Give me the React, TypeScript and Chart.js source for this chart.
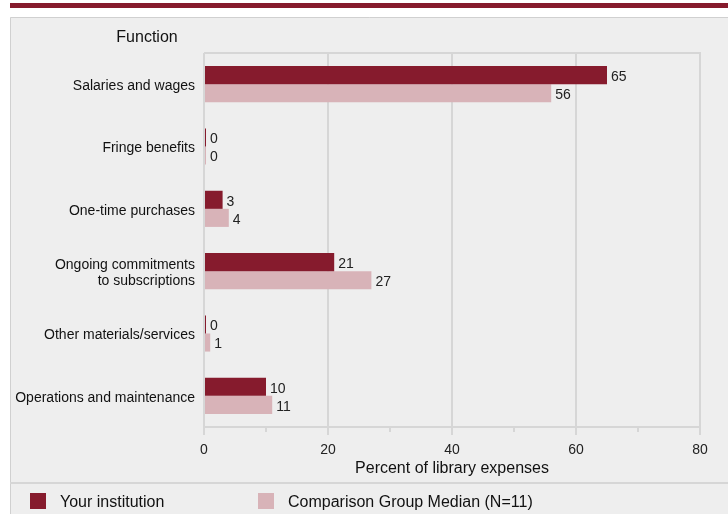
import React, { useEffect, useRef } from "react";
import { Chart, registerables } from "chart.js";

Chart.register(...registerables);

const categories: (string | string[])[] = [
  "Salaries and wages",
  "Fringe benefits",
  "One-time purchases",
  ["Ongoing commitments", "to subscriptions"],
  "Other materials/services",
  "Operations and maintenance",
];
const yourInstitution = [65, 0, 3, 21, 0, 10];
const comparisonMedian = [56, 0, 4, 27, 1, 11];
const xTicks = [0, 20, 40, 60, 80];
const minorTicks = [10, 30, 50, 70];
const seriesNames = ["Your institution", "Comparison Group Median (N=11)"];
const yTitle = "Function";
const xTitle = "Percent of library expenses";

const DARK = "#861B2D";
const LIGHT = "#D8B3B8";
const GRID = "#D6D6D6";
const PANEL = "#EEEEEE";
const FONT = "'Liberation Sans', Arial, sans-serif";

export default function App() {
  const ref = useRef<HTMLCanvasElement | null>(null);

  useEffect(() => {
    document.body.style.margin = "0";
    const canvas = ref.current;
    if (!canvas) return;

    const decor = {
      id: "decor",
      beforeDraw(chart: any) {
        const ctx = chart.ctx;
        ctx.save();
        ctx.fillStyle = "#FFFFFF";
        ctx.fillRect(0, 0, chart.width, chart.height);
        ctx.fillStyle = DARK;
        ctx.fillRect(10, 3, chart.width - 10, 5);
        ctx.fillStyle = PANEL;
        ctx.fillRect(10, 17, chart.width - 10, chart.height - 17);
        ctx.strokeStyle = "#D0D0D0";
        ctx.lineWidth = 1;
        ctx.beginPath();
        ctx.moveTo(10.5, chart.height);
        ctx.lineTo(10.5, 17.5);
        ctx.lineTo(chart.width, 17.5);
        ctx.stroke();
        // separator above legend
        ctx.strokeStyle = "#D6D6D6";
        ctx.lineWidth = 2;
        ctx.beginPath();
        ctx.moveTo(10, 483);
        ctx.lineTo(chart.width, 483);
        ctx.stroke();
        ctx.restore();
      },
      afterDraw(chart: any) {
        const ctx = chart.ctx;
        const area = chart.chartArea;
        const xs = chart.scales.x;
        ctx.save();
        // top border of plot
        ctx.strokeStyle = GRID;
        ctx.lineWidth = 2;
        ctx.beginPath();
        ctx.moveTo(area.left, area.top);
        ctx.lineTo(area.right + 1, area.top);
        ctx.stroke();
        // minor ticks
        ctx.beginPath();
        minorTicks.forEach((v) => {
          const px = Math.round(xs.getPixelForValue(v));
          ctx.moveTo(px, area.bottom);
          ctx.lineTo(px, area.bottom + 5);
        });
        ctx.stroke();
        // data labels
        ctx.fillStyle = "#222222";
        ctx.font = `14px ${FONT}`;
        ctx.textAlign = "left";
        ctx.textBaseline = "middle";
        chart.data.datasets.forEach((ds: any, i: number) => {
          const meta = chart.getDatasetMeta(i);
          meta.data.forEach((bar: any, j: number) => {
            ctx.fillText(String(ds.data[j]), bar.x + 4, bar.y + 2);
          });
        });
        // y axis title
        ctx.fillStyle = "#111111";
        ctx.font = `16px ${FONT}`;
        ctx.textAlign = "center";
        ctx.fillText(yTitle, 147, 38);
        // legend
        const items = [
          { x: 30, color: DARK, label: seriesNames[0] },
          { x: 258, color: LIGHT, label: seriesNames[1] },
        ];
        items.forEach((it) => {
          ctx.fillStyle = it.color;
          ctx.fillRect(it.x, 493, 16, 16);
          ctx.fillStyle = "#111111";
          ctx.textAlign = "left";
          ctx.fillText(it.label, it.x + 30, 503);
        });
        ctx.restore();
      },
    };

    const chart = new Chart(canvas, {
      type: "bar",
      data: {
        labels: categories,
        datasets: [
          {
            label: seriesNames[0],
            data: yourInstitution,
            backgroundColor: DARK,
            categoryPercentage: 0.58,
            barPercentage: 1,
            minBarLength: 2,
          },
          {
            label: seriesNames[1],
            data: comparisonMedian,
            backgroundColor: LIGHT,
            categoryPercentage: 0.58,
            barPercentage: 1,
            minBarLength: 2,
          },
        ],
      },
      options: {
        indexAxis: "y",
        responsive: false,
        animation: false,
        devicePixelRatio: 1,
        layout: { padding: { top: 53, left: 10, right: 28, bottom: 0 } },
        plugins: {
          legend: { display: false },
          tooltip: { enabled: false },
          title: { display: false },
        },
        scales: {
          x: {
            type: "linear",
            position: "bottom",
            min: 0,
            max: 80,
            afterBuildTicks: (scale: any) => {
              scale.ticks = xTicks.map((v) => ({ value: v }));
            },
            afterFit: (scale: any) => {
              scale.height = 87;
            },
            grid: {
              color: GRID,
              lineWidth: 2,
              tickColor: GRID,
              tickLength: 8,
              drawTicks: true,
            },
            border: { display: true, color: GRID, width: 2 },
            ticks: {
              color: "#222222",
              font: { family: FONT, size: 14 },
              padding: 7,
              maxRotation: 0,
            },
            title: {
              display: true,
              text: xTitle,
              color: "#111111",
              font: { family: FONT, size: 16 },
              padding: { top: 0, bottom: 36 },
            },
          },
          y: {
            type: "category",
            afterFit: (scale: any) => {
              scale.width = 194;
            },
            grid: { display: false, drawTicks: false },
            border: { display: false },
            ticks: {
              color: "#111111",
              font: { family: FONT, size: 14, lineHeight: 1.1 },
              padding: 9,
              labelOffset: 2,
              crossAlign: "near",
            },
          },
        },
      },
      plugins: [decor],
    });

    return () => chart.destroy();
  }, []);

  return (
    <canvas
      ref={ref}
      width={728}
      height={514}
      style={{ display: "block", width: 728, height: 514 }}
    />
  );
}
